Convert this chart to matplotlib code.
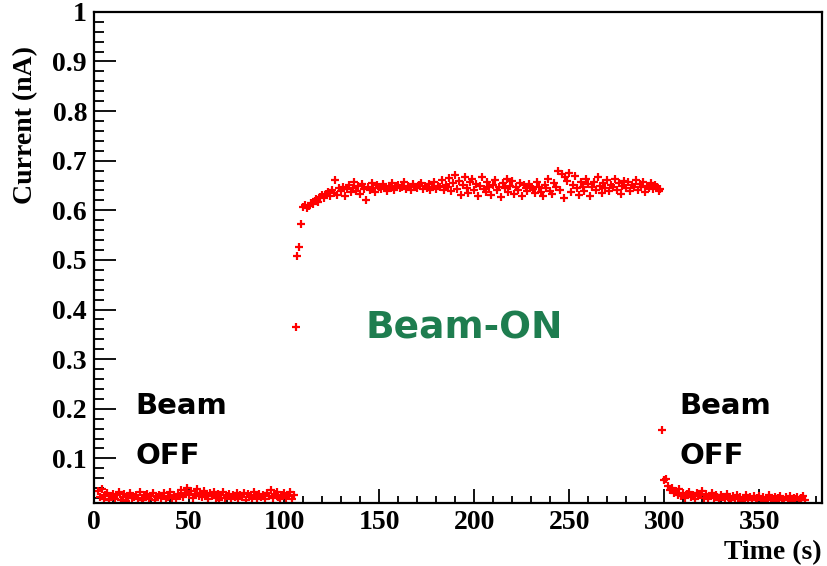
import numpy as np
import matplotlib.pyplot as plt
from matplotlib.ticker import MultipleLocator

# beam current readout, one sample per second (nA)
t_off_before = np.arange(2, 106)
i_off_before = [
    0.035, 0.022, 0.038, 0.018, 0.027, 0.031, 0.016, 0.024, 0.029, 0.019,
    0.026, 0.033, 0.017, 0.022, 0.028, 0.015, 0.025, 0.030, 0.020, 0.023,
    0.027, 0.018, 0.032, 0.021, 0.016, 0.026, 0.029, 0.019, 0.024, 0.031,
    0.017, 0.022, 0.027, 0.020, 0.025, 0.030, 0.018, 0.023, 0.033, 0.021,
    0.026, 0.019, 0.028, 0.024, 0.036, 0.022, 0.030, 0.041, 0.027, 0.034,
    0.020, 0.029, 0.038, 0.025, 0.031, 0.022, 0.035, 0.027, 0.019, 0.030,
    0.024, 0.033, 0.021, 0.028, 0.017, 0.026, 0.032, 0.020, 0.025, 0.029,
    0.018, 0.027, 0.023, 0.031, 0.019, 0.026, 0.022, 0.030, 0.017, 0.028,
    0.024, 0.020, 0.033, 0.025, 0.018, 0.029, 0.022, 0.027, 0.019, 0.031,
    0.024, 0.036, 0.021, 0.028, 0.033, 0.023, 0.019, 0.027, 0.030, 0.020,
    0.025, 0.032, 0.018, 0.026,
]

t_on = np.arange(106, 299)
i_on = [
    0.365, 0.508, 0.527, 0.572, 0.607, 0.611, 0.604, 0.609, 0.615, 0.612,
    0.619, 0.623, 0.617, 0.626, 0.630, 0.624, 0.633, 0.637, 0.628, 0.641,
    0.635, 0.662, 0.631, 0.644, 0.638, 0.647, 0.629, 0.642, 0.652, 0.636,
    0.645, 0.658, 0.639, 0.649, 0.633, 0.654, 0.643, 0.621, 0.648, 0.640,
    0.656, 0.644, 0.637, 0.651, 0.646, 0.642, 0.653, 0.648, 0.639, 0.650,
    0.645, 0.655, 0.641, 0.649, 0.652, 0.644, 0.647, 0.658, 0.643, 0.650,
    0.646, 0.641, 0.654, 0.648, 0.644, 0.651, 0.656, 0.642, 0.649, 0.645,
    0.653, 0.640, 0.648, 0.657, 0.643, 0.650, 0.646, 0.661, 0.641, 0.652,
    0.647, 0.666, 0.638, 0.655, 0.672, 0.643, 0.660, 0.631, 0.651, 0.668,
    0.645, 0.635, 0.657, 0.663, 0.640, 0.653, 0.628, 0.649, 0.667, 0.642,
    0.636, 0.658, 0.646, 0.631, 0.652, 0.661, 0.640, 0.648, 0.626, 0.655,
    0.644, 0.664, 0.637, 0.650, 0.659, 0.633, 0.647, 0.641, 0.656, 0.629,
    0.652, 0.645, 0.638, 0.654, 0.648, 0.643, 0.634, 0.657, 0.646, 0.637,
    0.628, 0.651, 0.645, 0.663, 0.639, 0.632, 0.655, 0.648, 0.679, 0.641,
    0.673, 0.625, 0.668, 0.660, 0.676, 0.637, 0.652, 0.670, 0.644, 0.631,
    0.658, 0.648, 0.639, 0.664, 0.653, 0.628, 0.646, 0.658, 0.641, 0.667,
    0.650, 0.635, 0.656, 0.645, 0.661, 0.638, 0.652, 0.647, 0.663, 0.641,
    0.655, 0.633, 0.649, 0.660, 0.644, 0.657, 0.639, 0.651, 0.646, 0.662,
    0.640, 0.653, 0.648, 0.658, 0.636, 0.650, 0.645, 0.656, 0.642, 0.652,
    0.647, 0.639, 0.643,
]

t_off_after = np.arange(299, 375)
i_off_after = [
    0.157, 0.056, 0.058, 0.045, 0.037, 0.041, 0.030, 0.035, 0.026, 0.038,
    0.024, 0.031, 0.020, 0.028, 0.033, 0.022, 0.026, 0.019, 0.030, 0.024,
    0.027, 0.034, 0.021, 0.029, 0.018, 0.025, 0.031, 0.020, 0.027, 0.023,
    0.017, 0.026, 0.022, 0.019, 0.028, 0.021, 0.016, 0.024, 0.020, 0.026,
    0.018, 0.023, 0.015, 0.021, 0.027, 0.017, 0.022, 0.019, 0.024, 0.016,
    0.020, 0.025, 0.018, 0.022, 0.014, 0.021, 0.026, 0.017, 0.019, 0.023,
    0.015, 0.020, 0.024, 0.018, 0.016, 0.022, 0.019, 0.025, 0.015, 0.021,
    0.018, 0.023, 0.016, 0.020, 0.024, 0.017,
]

t = np.concatenate([t_off_before, t_on, t_off_after])
cur = np.concatenate([i_off_before, i_on, i_off_after])

plt.rcParams['font.family'] = 'Liberation Serif'
plt.rcParams['font.weight'] = 'bold'

fig = plt.figure(figsize=(8.27, 5.66), dpi=100)
ax = fig.add_axes([0.1137, 0.1113, 0.8803, 0.8677])

ax.plot(t, cur, linestyle='none', marker='+', color='red',
        markersize=5.5, markeredgewidth=1.6)

ax.set_xlim(0, 383)
ax.set_ylim(0.01, 1.0)

ax.xaxis.set_major_locator(MultipleLocator(50))
ax.xaxis.set_minor_locator(MultipleLocator(10))
ax.yaxis.set_minor_locator(MultipleLocator(0.02))
ax.set_yticks(np.arange(0.1, 1.01, 0.1))
ax.set_yticklabels(['0.1', '0.2', '0.3', '0.4', '0.5', '0.6', '0.7', '0.8', '0.9', '1'])

ax.tick_params(axis='both', which='both', direction='in', top=False, right=False,
               labelsize=20, width=1.3, pad=5)
ax.tick_params(axis='y', which='major', length=16)
ax.tick_params(axis='y', which='minor', length=7.5)
ax.tick_params(axis='x', which='major', length=10)
ax.tick_params(axis='x', which='minor', length=5)
for s in ax.spines.values():
    s.set_linewidth(1.6)

ax.set_xlabel('Time (s)', loc='right', fontsize=20, fontweight='bold', labelpad=4)
ax.set_ylabel('Current (nA)', fontsize=20, fontweight='bold')
ax.yaxis.set_label_coords(-0.077, 0.77)

note = dict(family='DejaVu Sans', fontweight='bold', fontsize=21)
ax.text(22, 0.205, 'Beam', color='black', ha='left', va='center', **note)
ax.text(22, 0.105, 'OFF', color='black', ha='left', va='center', **note)
ax.text(308, 0.205, 'Beam', color='black', ha='left', va='center', **note)
ax.text(308, 0.105, 'OFF', color='black', ha='left', va='center', **note)
ax.text(143, 0.362, 'Beam-ON', color='#1e7d4f', ha='left', va='center',
        family='DejaVu Sans', fontweight='bold', fontsize=27)

fig.savefig('out.png', dpi=100)
